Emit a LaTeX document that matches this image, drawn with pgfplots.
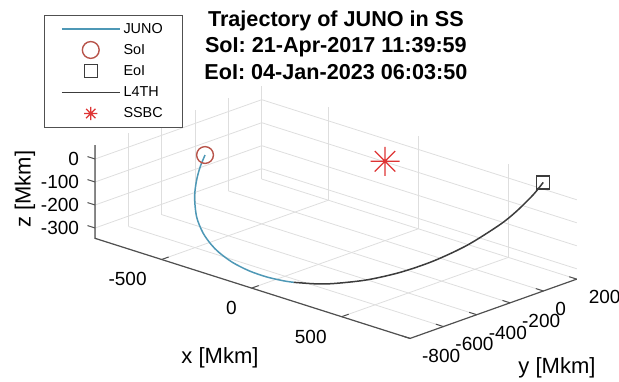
\documentclass[border=0pt]{standalone}
\usepackage{fontspec}
\setmainfont{Liberation Sans}
\usepackage{pgfplots}
\pgfplotsset{compat=1.18}
\usetikzlibrary{calc}
\definecolor{junoblue}{RGB}{78,152,182}
\definecolor{soired}{RGB}{184,84,74}
\definecolor{ssbcred}{RGB}{222,52,52}
\definecolor{axgray}{RGB}{80,80,80}
\definecolor{gridgray}{RGB}{222,222,222}
\definecolor{trajgray}{RGB}{60,60,60}
\pgfdeclareplotmark{ast8}{%
  \pgfpathmoveto{\pgfqpoint{-\pgfplotmarksize}{0pt}}\pgfpathlineto{\pgfqpoint{\pgfplotmarksize}{0pt}}%
  \pgfpathmoveto{\pgfqpoint{0pt}{-\pgfplotmarksize}}\pgfpathlineto{\pgfqpoint{0pt}{\pgfplotmarksize}}%
  \pgfpathmoveto{\pgfqpoint{-0.7071\pgfplotmarksize}{-0.7071\pgfplotmarksize}}\pgfpathlineto{\pgfqpoint{0.7071\pgfplotmarksize}{0.7071\pgfplotmarksize}}%
  \pgfpathmoveto{\pgfqpoint{-0.7071\pgfplotmarksize}{0.7071\pgfplotmarksize}}\pgfpathlineto{\pgfqpoint{0.7071\pgfplotmarksize}{-0.7071\pgfplotmarksize}}%
  \pgfusepathqstroke}
\pgfplotsset{
  linelegend/.style={legend image code/.code={\draw[##1] (0pt,0pt) -- (29pt,0pt);}},
  marklegend/.style={legend image code/.code={\draw[##1] plot coordinates {(14.5pt,0pt)};}},
  smallmarklegend/.style={legend image code/.code={\draw[##1, mark size=3.3pt] plot coordinates {(14.5pt,0pt)};}},
}
\begin{document}
\begin{tikzpicture}
\begin{axis}[
  x={(0.09pt,-0.0286pt)}, y={(0.08335pt,0.02965pt)}, z={(0pt,0.115pt)},
  xmin=-870, xmax=880, ymin=-800, ymax=200, zmin=-345, zmax=60,
  xtick={-500,0,500}, ytick={-800,-600,-400,-200,0,200}, ztick={-300,-200,-100,0},
  grid=major, major grid style={gridgray, line width=0.4pt},
  axis line style={draw=none},
  major tick length=0pt,
  clip=false,
  /pgf/number format/assume math mode=true,
  ticklabel style={font=\fontsize{9.5}{11}\selectfont},
  xticklabel style={anchor=north east, xshift=-4pt, yshift=-3pt},
  yticklabel style={anchor=north west, xshift=2.5pt, yshift=-2pt},
  zticklabel style={anchor=east, xshift=-4.5pt},
  xlabel={x [Mkm]}, ylabel={y [Mkm]}, zlabel={z [Mkm]},
  every axis x label/.style={at={(axis cs:483.7,-1512.3,-345)}, anchor=center, font=\fontsize{11}{13}\selectfont},
  every axis y label/.style={at={(axis cs:1555,-647.5,-345)}, anchor=center, font=\fontsize{11}{13}\selectfont},
  every axis z label/.style={at={(axis cs:-1258.9,-800,-227.5)}, anchor=center, rotate=90, font=\fontsize{11}{13}\selectfont},
  title={Trajectory of JUNO in SS\\SoI: 21-Apr-2017 11:39:59\\EoI: 04-Jan-2023 06:03:50},
  title style={font=\fontsize{10.8}{13.3}\selectfont\bfseries, align=center, yshift=-6.5pt},
  legend style={at={(-0.107,1.282)}, anchor=north west, draw=axgray, line width=0.5pt,
    font=\fontsize{7.2}{9}\selectfont, inner xsep=8.5pt, inner ysep=1.5pt,
    nodes={inner sep=1.5pt, text height=6pt, text depth=1.6pt}},
  legend cell align=left,
]
\draw[axgray, line width=0.6pt] (axis cs:-870,-800,60) -- (axis cs:-870,-800,-345) -- (axis cs:880,-800,-345) -- (axis cs:880,200,-345);
\draw[axgray, line width=0.5pt]
  (axis cs:-870,-800,-300) -- (axis cs:-912,-800,-300)
  (axis cs:-870,-800,-200) -- (axis cs:-912,-800,-200)
  (axis cs:-870,-800,-100) -- (axis cs:-912,-800,-100)
  (axis cs:-870,-800,0) -- (axis cs:-912,-800,0)
  (axis cs:-500,-800,-345) -- (axis cs:-500,-758,-345)
  (axis cs:0,-800,-345) -- (axis cs:0,-758,-345)
  (axis cs:500,-800,-345) -- (axis cs:500,-758,-345)
  (axis cs:880,-800,-345) -- (axis cs:838,-800,-345)
  (axis cs:880,-600,-345) -- (axis cs:838,-600,-345)
  (axis cs:880,-400,-345) -- (axis cs:838,-400,-345)
  (axis cs:880,-200,-345) -- (axis cs:838,-200,-345)
  (axis cs:880,0,-345) -- (axis cs:838,0,-345)
  (axis cs:880,200,-345) -- (axis cs:838,200,-345);
\coordinate (O) at (axis cs:0,0,0);
\addplot3[junoblue, line width=0.75pt, smooth, no markers, linelegend] coordinates {
(-777.5,-240.1,-104.1) (-746.0,-303.3,-131.5) (-703.1,-370.9,-160.8) (-638.5,-452.8,-196.3)
(-542.1,-544.7,-236.2) (-445.6,-610.7,-264.8) (-361.0,-653.0,-283.1) (-294.3,-678.6,-294.2)
(-194.5,-705.4,-305.8) (-88.1,-720.3,-312.3) (12.4,-722.9,-313.4) (99.9,-715.7,-310.3)
(148.5,-707.7,-306.8)};
\addlegendentry{JUNO}
\addplot3[only marks, mark=o, mark size=4.2pt, soired, mark options={line width=0.7pt}, marklegend] coordinates {(-777.5,-240.1,-104.1)};
\addlegendentry{SoI}
\addplot3[only marks, mark=square, mark size=3.25pt, trajgray, mark options={line width=0.7pt}, marklegend] coordinates {(751.4,137.8,59.7)};
\addlegendentry{EoI}
\addplot3[trajgray, line width=0.75pt, smooth, no markers, linelegend] coordinates {
(148.5,-707.7,-306.8) (244.6,-682.4,-295.9) (318.9,-654.1,-283.6) (441.5,-587.2,-254.6)
(548.3,-501.2,-217.3) (636.9,-398.6,-172.8) (708.9,-273.4,-118.5) (755.1,-128.4,-55.7)
(766.2,-40.5,-17.6) (763.8,63.8,27.6) (751.4,137.8,59.7)};
\addlegendentry{L4TH}
\addplot3[only marks, mark=ast8, mark size=7.25pt, ssbcred, mark options={line width=0.6pt}, smallmarklegend] coordinates {(0,0,0)};
\addlegendentry{SSBC}
\end{axis}
\pgfresetboundingbox
\path[use as bounding box] ($(O)+(-192.5pt,80.65pt)$) rectangle ($(O)+(117pt,-109.85pt)$);
\end{tikzpicture}
\end{document}
